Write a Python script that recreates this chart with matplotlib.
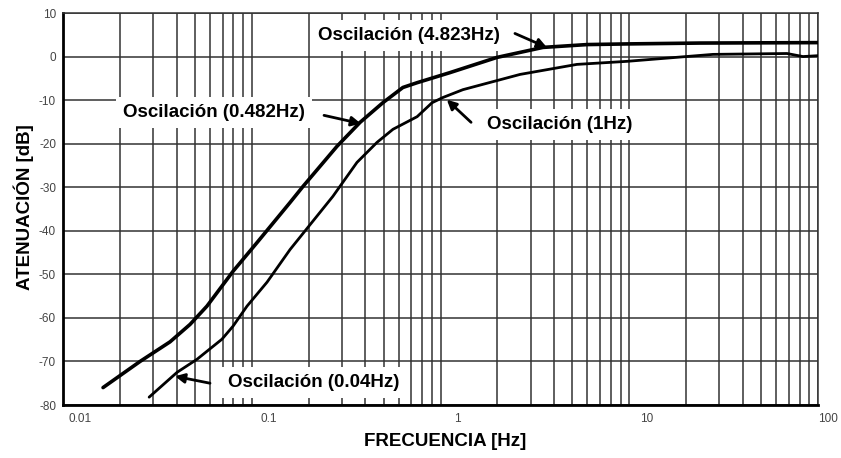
import numpy as np
import matplotlib
matplotlib.use("Agg")
import matplotlib.pyplot as plt
import matplotlib.transforms as mtransforms

# curva superior (etiqueta 0.482Hz / 4.823Hz)
freq_a = [0.0163, 0.0256, 0.0369, 0.0471, 0.0579, 0.0796, 0.1067, 0.1596, 0.187,
          0.283, 0.375, 0.495, 0.632, 0.752, 1.12, 1.99, 3.49, 5.97, 9.7, 23.7, 100]
aten_a = [-76.0, -70.0, -65.5, -61.5, -57.3, -49.3, -42.7, -33.5, -29.8,
          -20.6, -15.1, -10.6, -7.1, -6.0, -3.7, -0.2, 2.1, 2.75, 2.9, 3.1, 3.2]

# curva inferior (etiqueta 1Hz / 0.04Hz)
freq_b = [0.0286, 0.0402, 0.0513, 0.0695, 0.0796, 0.0944, 0.1205, 0.1596, 0.269,
          0.361, 0.461, 0.560, 0.752, 0.902, 1.03, 1.315, 2.64, 5.28, 9.72, 27.8,
          68.5, 83.2, 100]
aten_b = [-78.2, -72.5, -69.5, -64.9, -61.9, -57.3, -51.8, -44.3, -32.1,
          -24.3, -19.7, -16.7, -13.8, -10.6, -9.4, -7.6, -4.1, -1.8, -1.1, 0.5,
          0.7, 0.0, 0.2]

xticks = [0.01, 0.1, 1, 10, 100]
xlabels = ["0.01", "0.1", "1", "10", "100"]
yticks = list(range(-80, 11, 10))

# texto, posicion del texto, cola de flecha, punta de flecha
notas = [
    ("Oscilación (4.823Hz)", (0.681, 4.8), (2.48, 5.3), (3.66, 2.1)),
    ("Oscilación (0.482Hz)", (0.0631, -12.8), (0.2415, -13.5), (0.379, -15.4)),
    ("Oscilación (1Hz)", (4.30, -15.6), (1.452, -15.1), (1.08, -9.9)),
    ("Oscilación (0.04Hz)", (0.2138, -74.8), (0.0601, -75.0), (0.0392, -73.4)),
]

plt.rcParams['font.family'] = ['Liberation Sans', 'DejaVu Sans']

fig = plt.figure(figsize=(8.41, 4.58), dpi=100)
ax = fig.add_axes([63/841, 1-405/458, 755/841, 392/458])

ax.set_xscale('log')
ax.set_xlim(0.01, 100)
ax.set_ylim(-80, 10)
ax.set_yticks(yticks)
ax.set_yticklabels([str(v) for v in yticks])
ax.set_xticks(xticks)
ax.set_xticklabels(xlabels)

ax.grid(True, which='both', color='#333333', lw=1.1)
ax.set_axisbelow(True)
ax.tick_params(which='both', length=0, labelsize=8.5, labelcolor='#444444')
ax.tick_params(axis='y', pad=5)
ax.tick_params(axis='x', pad=6)
for lab in ax.get_xticklabels() + ax.get_yticklabels():
    lab.set_family(['Liberation Sans Narrow', 'Liberation Sans'])

# las etiquetas del eje x estan corridas a la derecha en el original
xlabs = ax.get_xticklabels()
for i, lab in enumerate(xlabs):
    dx = 17 if i < len(xlabs) - 1 else 10
    lab.set_transform(lab.get_transform() +
                      mtransforms.ScaledTranslation(dx/100, 0, fig.dpi_scale_trans))

for side in ['left', 'bottom']:
    ax.spines[side].set_linewidth(2)
    ax.spines[side].set_color('black')
for side in ['top', 'right']:
    ax.spines[side].set_linewidth(1.1)
    ax.spines[side].set_color('#333333')

ax.plot(freq_a, aten_a, color='black', lw=2.6, solid_capstyle='round', zorder=3)
ax.plot(freq_b, aten_b, color='black', lw=2.0, solid_capstyle='round', zorder=3)

for txt, pos, tail, tip in notas:
    ax.text(pos[0], pos[1], txt, ha='center', va='center', fontsize=13.5,
            fontweight='bold', zorder=4,
            bbox=dict(fc='white', ec='none', pad=5))
    ax.annotate('', xy=tip, xytext=tail, zorder=5,
                arrowprops=dict(arrowstyle='-|>', color='black', lw=2,
                                mutation_scale=14, shrinkA=0, shrinkB=0))

ax.set_xlabel("FRECUENCIA [Hz]", fontsize=13.5, fontweight='bold')
ax.set_ylabel("ATENUACIÓN [dB]", fontsize=13.5, fontweight='bold')
ax.xaxis.set_label_coords(0.506, -0.072)
ax.yaxis.set_label_coords(-0.038, 0.505)

fig.savefig("out.png", dpi=100)
